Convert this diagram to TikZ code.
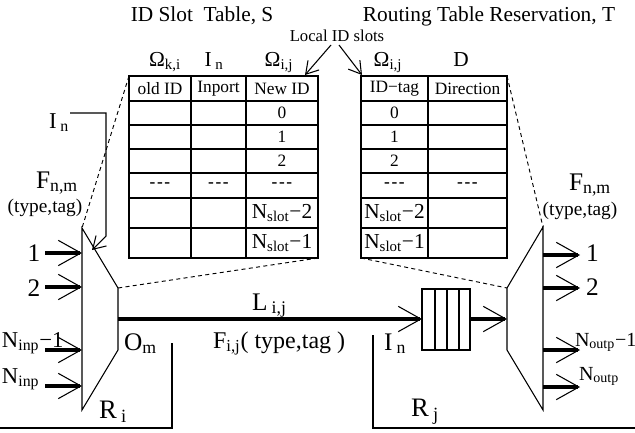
\documentclass[tikz,border=0pt]{standalone}
\usepackage{fontspec}
\setmainfont{Liberation Serif}
\usetikzlibrary{arrows.meta}

\newcommand\fsz[1]{\fontsize{#1}{#1}\selectfont}
\newcommand\dashdots{\textbf{-\kern1.2pt-\kern1.2pt-}}

\tikzset{
  lbl/.style={inner sep=0pt, outer sep=0pt},
  big/.style={lbl, font=\fsz{19}},
  mid/.style={lbl, font=\fsz{17}},
  title/.style={lbl, font=\fsz{16}},
  head/.style={lbl, font=\fsz{16}, anchor=base},
  cell/.style={lbl, font=\fsz{13}},
  slotcell/.style={lbl, font=\fsz{16}},
  small/.style={lbl, font=\fsz{12.5}},
  typetag/.style={lbl, font=\fsz{14.5}, anchor=base},
  tbl/.style={line width=0.9pt},
  mux/.style={line width=0.8pt, line join=miter},
  guide/.style={dashed, line width=0.7pt, dash pattern=on 3pt off 2.5pt},
  fatarrow/.style={line width=3pt, -{Straight Barb[length=17pt,width=19pt,line width=0.8pt 0]}},
  thinarrow/.style={line width=0.8pt, -{Straight Barb[length=9pt,width=11pt,line width=0.8pt 0]}},
  border/.style={line width=0.8pt},
}

\begin{document}
\begin{tikzpicture}[x=0.75pt,y=-0.75pt]
\useasboundingbox (0,0) rectangle (635,432);

% ---------- titles ----------
\node[title] (titleS) at (202,16) {ID Slot\ \ Table, S};
\node[title] (titleT) at (489,16) {Routing Table Reservation, T};
\node[small] (local) at (337,36) {Local ID slots};

% ---------- column heads ----------
\node[head] (hOki) at (165,66) {Ω\textsubscript{k,i}};
\node[head] (hIn)  at (214,66) {I\,\textsubscript{n}};
\node[head] (hOij) at (279,66) {Ω\textsubscript{i,j}};
\node[head] (hOijR) at (388,66) {Ω\textsubscript{i,j}};
\node[head] (hD)   at (461,66) {D};

% ---------- ID slot table S ----------
\coordinate (Stl) at (129,76);
\coordinate (Sbr) at (318,258);
\draw[tbl] (Stl) rectangle (Sbr);
\foreach \x in {191,246} \draw[tbl] (\x,76) -- (\x,258);
\foreach \y in {101,125,149,173,198,228} \draw[tbl] (129,\y) -- (318,\y);

\node[cell] (s00) at (160,88.5) {old ID};
\node[cell] (s01) at (218.5,88.5) {Inport};
\node[cell] (s02) at (282,88.5) {New ID};
\node[cell] (s12) at (282,113) {0};
\node[cell] (s22) at (282,137) {1};
\node[cell] (s32) at (282,161) {2};
\node[cell] (s40) at (160,185.5) {\dashdots};
\node[cell] (s41) at (218.5,185.5) {\dashdots};
\node[cell] (s42) at (282,185.5) {\dashdots};
\node[slotcell] (s52) at (282,213) {N\textsubscript{slot}−2};
\node[slotcell] (s62) at (282,243) {N\textsubscript{slot}−1};

% ---------- routing table T ----------
\coordinate (Ttl) at (361,76);
\coordinate (Ttr) at (507,76);
\coordinate (Tbl) at (361,258);
\coordinate (Tbr) at (507,258);
\draw[tbl] (Ttl) rectangle (Tbr);
\draw[tbl] (428,76) -- (428,258);
\foreach \y in {101,125,149,173,198,228} \draw[tbl] (361,\y) -- (507,\y);

\node[cell] (t00) at (394.5,88.5) {ID−tag};
\node[cell] (t01) at (467.5,88.5) {Direction};
\node[cell] (t10) at (394.5,113) {0};
\node[cell] (t20) at (394.5,137) {1};
\node[cell] (t30) at (394.5,161) {2};
\node[cell] (t40) at (394.5,185.5) {\dashdots};
\node[cell] (t41) at (467.5,185.5) {\dashdots};
\node[slotcell] (t50) at (394.5,213) {N\textsubscript{slot}−2};
\node[slotcell] (t60) at (394.5,243) {N\textsubscript{slot}−1};

% arrows from the "Local ID slots" label
\coordinate (locL) at (331,45);
\coordinate (locR) at (339,45);
\coordinate (locLe) at (305,75);
\coordinate (locRe) at (362,75);
\draw[thinarrow] (locL) -- (locLe);
\draw[thinarrow] (locR) -- (locRe);

% ---------- router i crossbar ----------
\coordinate (mLa) at (82,228);
\coordinate (mLb) at (118,288);
\coordinate (mLc) at (118,350);
\coordinate (mLd) at (82,410);
\draw[mux] (mLa) -- (mLb) -- (mLc) -- (mLd) -- cycle;

% ---------- router j crossbar ----------
\coordinate (mRa) at (543,227);
\coordinate (mRb) at (507,288);
\coordinate (mRc) at (507,350);
\coordinate (mRd) at (543,410);
\draw[mux] (mRa) -- (mRb) -- (mRc) -- (mRd) -- cycle;

% dashed guides from the tables to the crossbars
\draw[guide] (Stl) -- (mLa);
\draw[guide] (Sbr) -- (mLb);
\draw[guide] (Ttr) -- (mRa);
\draw[guide] (Tbl) -- (mRb);

% ---------- input ports of router i ----------
\foreach \n/\y in {1/253,2/287,3/350,4/386}{
  \coordinate (inS\n) at (45,\y);
  \coordinate (inE\n) at (82,\y);
  \draw[fatarrow] (inS\n) -- (inE\n);
}
\node[big] (lin1) at (34,253) {1};
\node[big] (lin2) at (34,288) {2};
\node[mid, anchor=base west] (lin3) at (2,347) {N\textsubscript{inp}−1};
\node[mid, anchor=base west] (lin4) at (2,383) {N\textsubscript{inp}};

% ---------- output ports of router j ----------
\foreach \n/\y in {1/255,2/288,3/350,4/387}{
  \coordinate (outS\n) at (543,\y);
  \coordinate (outE\n) at (580,\y);
  \draw[fatarrow] (outS\n) -- (outE\n);
}
\node[big, anchor=base west] (lout1) at (586,261) {1};
\node[big, anchor=base west] (lout2) at (586,295) {2};
\node[mid, font=\fsz{15}, anchor=base west] (lout3) at (575,346) {N\textsubscript{outp}−1};
\node[mid, font=\fsz{15}, anchor=base west] (lout4) at (579,380) {N\textsubscript{outp}};

% ---------- flow labels ----------
\node[mid, font=\fsz{19}, anchor=base] (Fl) at (57,188) {F\textsubscript{n,m}};
\node[typetag] (Fltt) at (45,212) {(type,tag)};
\node[mid, font=\fsz{19}, anchor=base] (Fr) at (590,190) {F\textsubscript{n,m}};
\node[typetag] (Frtt) at (580,215) {(type,tag)};

% ---------- input port marker I_n ----------
\node[mid, anchor=base west] (Inl) at (49,128) {I\,\textsubscript{n}};
\coordinate (Ina) at (70,113);
\coordinate (Inb) at (106,113);
\coordinate (Inc) at (106,236);
\coordinate (Ind) at (92,250);
\draw[thinarrow] (Ina) -- (Inb) -- (Inc) -- (Ind);

% ---------- link L_{i,j} with input queue ----------
\coordinate (qTL) at (422,289);
\coordinate (qBR) at (470,350);
\draw[mux] (qTL) rectangle (qBR);
\foreach \x in {435,447,459} \draw[mux] (\x,289) -- (\x,350);
\coordinate (linkS) at (118,319);
\coordinate (linkE) at (422,319);
\coordinate (qOut) at (470,319);
\coordinate (muxIn) at (507,319);
\draw[fatarrow] (linkS) -- (linkE);
\draw[fatarrow] (qOut) -- (muxIn);

\node[big, anchor=base west] (L) at (252,310) {L\,\textsubscript{i,j}};
\node[big, anchor=base west] (Om) at (124,350) {O\textsubscript{m}};
\node[mid, font=\fsz{18}, anchor=base west] (Fij) at (213,348) {F\textsubscript{i,j}( type,tag )};
\node[big, anchor=base west] (InR) at (384,350) {I\,\textsubscript{n}};

% ---------- router outlines ----------
\coordinate (rIa) at (0,428);
\coordinate (rIb) at (172,428);
\coordinate (rIc) at (172,343);
\draw[border] (rIa) -- (rIb) -- (rIc);
\coordinate (rJa) at (373,335);
\coordinate (rJb) at (373,428);
\coordinate (rJc) at (635,428);
\draw[border] (rJa) -- (rJb) -- (rJc);

\node[big, font=\fsz{20}, anchor=base west] (Ri) at (99,418) {R\,\textsubscript{i}};
\node[big, font=\fsz{20}, anchor=base west] (Rj) at (411,416) {R\,\textsubscript{j}};

\end{tikzpicture}
\end{document}
